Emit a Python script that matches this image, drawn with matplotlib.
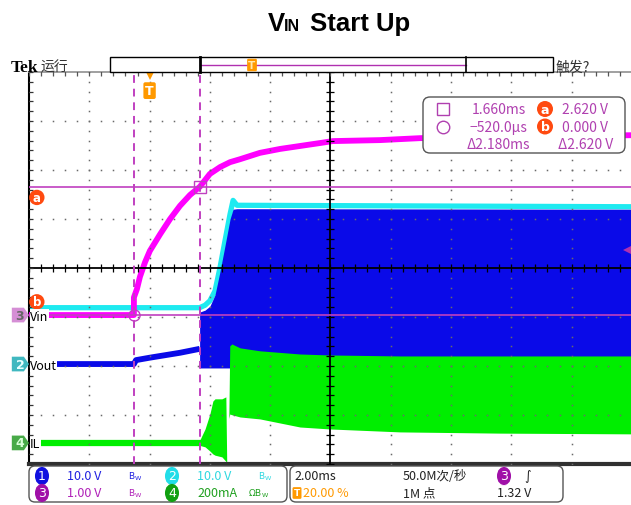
import numpy as np
import matplotlib.pyplot as plt
from matplotlib.patches import Polygon, FancyBboxPatch, Rectangle

# scope settings
t_div = 2.0            # ms/div
t_left = -4.0          # ms at left edge (trigger at 20 %)
t_right = 15.97
ch12_scale, ch12_gnd = 10.0, -1.96     # V/div, ground in div (ch1 + ch2)
ch3_scale, ch3_gnd = 1.0, -0.96        # Vin
ch4_scale, ch4_gnd = 200.0, -3.57      # IL, mA/div
trig_level = 1.32

# cursors (ch3)
cur_t = [1.660, -0.520]   # ms : square, circle
cur_v = [2.620, 0.000]    # V  : a, b

# Vin (ch3, magenta)
vin_t = [-4.0, -0.52, -0.52, -0.42, -0.32, -0.15, 0.01, 0.35, 0.68, 1.01, 1.34, 1.67,
         2.00, 2.34, 2.67, 3.00, 3.66, 4.33, 4.99, 5.65, 6.08, 7.64, 8.97, 11.62, 16.0]
vin_v = [0.0, 0.0, 0.36, 0.53, 0.78, 1.08, 1.31, 1.65, 1.96, 2.23, 2.45, 2.62,
         2.88, 3.02, 3.12, 3.18, 3.31, 3.39, 3.45, 3.51, 3.55, 3.57, 3.61, 3.64, 3.67]

# Vout (ch2, cyan)
cy_t = [-4.0, 1.66, 1.84, 2.00, 2.17, 2.34, 2.50, 2.67, 2.77, 2.90, 16.0]
cy_v = [11.5, 11.5, 12.0, 12.9, 14.9, 19.8, 25.1, 30.6, 33.4, 32.4, 32.1]

# switch node (ch1, blue)
sw_pre_t = [-4.0, -0.52, -0.45, 0.01, 0.51, 1.01, 1.66]
sw_pre_v = [0.0, 0.0, 0.8, 1.3, 1.8, 2.3, 3.1]
sw_t = [1.66, 1.84, 2.00, 2.17, 2.34, 2.50, 2.67, 2.77, 2.90, 16.0]
sw_hi = [10.6, 11.0, 11.8, 14.1, 19.0, 24.1, 29.6, 31.6, 31.7, 31.6]
sw_lo = [-0.8, -0.8, -0.8, -0.8, -0.8, -0.8, -0.8, -0.8, -0.8, -0.8]

# IL (ch4, green), mA
il_pre_t = [-4.0, 1.70]
il_pre_v = [0.0, 0.0]
il_t = [1.66, 1.84, 2.00, 2.10, 2.17, 2.40, 2.53, 2.56, 2.62, 2.63, 2.66, 2.73,
        3.00, 3.66, 4.99, 5.98, 8.31, 11.62, 16.0]
il_hi = [10, 57, 118, 171, 180, 180, 188, -85, -85, 110, 396, 404,
         388, 376, 363, 359, 355, 355, 355]
il_lo = [-10, -16, -33, -45, -50, -57, -75, -85, -85, 100, 118, 115,
         106, 98, 65, 57, 45, 40, 37]

MAG = '#ff00ff'
CUR = '#c040c0'
CYAN = '#1eeaf0'
BLUE = '#0a0ae8'
GREEN = '#00ee00'
ORANGE = '#ff4a10'
NARROW = ['Liberation Sans Narrow', 'Noto Sans CJK SC', 'DejaVu Sans']


def d12(v):
    return ch12_gnd + np.asarray(v, float) / ch12_scale


def d3(v):
    return ch3_gnd + np.asarray(v, float) / ch3_scale


def d4(v):
    return ch4_gnd + np.asarray(v, float) / ch4_scale


fig = plt.figure(figsize=(6.31, 5.06), dpi=100)
ax = fig.add_axes([29 / 631, (506 - 465) / 506, (631 - 29) / 631, (465 - 73) / 506])
ax.set_xlim(t_left, t_right)
ax.set_ylim(-4, 4)
ax.set_xticks([])
ax.set_yticks([])
ax.spines['right'].set_visible(False)
ax.spines['left'].set_linewidth(1.5)
ax.spines['top'].set_color('#909090')
ax.spines['top'].set_linewidth(1.2)
ax.spines['bottom'].set_color('#303030')
ax.spines['bottom'].set_linewidth(3)

# traces
ax.plot(cy_t, d12(cy_v), color=CYAN, lw=3.8, zorder=2, solid_capstyle='butt')
ax.plot(sw_pre_t, d12(sw_pre_v), color=BLUE, lw=4.2, zorder=2.2, solid_capstyle='butt')
ax.fill_between(sw_t, d12(sw_hi), d12(sw_lo), color=BLUE, lw=0, zorder=2.2)
ax.plot(il_pre_t, d4(il_pre_v), color=GREEN, lw=4.5, zorder=2.4, solid_capstyle='butt')
ax.fill_between(il_t, d4(il_hi), d4(il_lo), color=GREEN, lw=0, zorder=2.4)
ax.plot(vin_t, d3(vin_v), color=MAG, lw=4.2, zorder=2.6, solid_capstyle='butt')

# graticule
ys = np.arange(-4, 4.01, 0.2)
xs = np.arange(t_left, t_right, 0.4)
centre_t = t_left + 5 * t_div
for k in range(1, 10):
    if k == 5:
        continue
    xk = t_left + k * t_div
    ax.plot(np.full(len(ys), xk), ys, ls='none', marker='s', ms=1.1, mew=0,
            color='#6a6a6a', zorder=4)
for j in [-3, -2, -1, 1, 2, 3]:
    ax.plot(xs, np.full(len(xs), j), ls='none', marker='s', ms=1.1, mew=0,
            color='#6a6a6a', zorder=4)
ax.axhline(0, color='k', lw=1.3, zorder=4)
ax.axvline(centre_t, color='k', lw=1.3, zorder=4)
ax.plot(xs, np.zeros(len(xs)), ls='none', marker='|', ms=6, mew=0.9, color='k', zorder=4)
ax.plot(np.full(len(ys), centre_t), ys, ls='none', marker='_', ms=6, mew=0.9, color='k', zorder=4)
ax.plot(np.full(len(ys), t_left), ys, ls='none', marker='_', ms=6, mew=0.9, color='#333333', zorder=4)
ax.plot(xs, np.full(len(xs), 4), ls='none', marker='|', ms=6, mew=0.9, color='#555555', zorder=4)

# cursors
for tc in cur_t:
    ax.axvline(tc, color=CUR, lw=1.4, ls=(0, (4, 3)), zorder=5)
for vc in cur_v:
    ax.axhline(d3(vc), color=CUR, lw=1.2, zorder=5)
ax.plot(cur_t[0], d3(cur_v[0]), marker='s', ms=8, mfc='none', mec=CUR, mew=1, zorder=6)
ax.plot(cur_t[1], d3(cur_v[1]), marker='o', ms=8, mfc='none', mec=CUR, mew=1, zorder=6)
ax.plot(t_right - 0.06, d3(trig_level), marker='<', ms=8, color='#b030b0', mew=0,
        clip_on=False, zorder=6)

# cursor a / b tags
for lbl, vc, dy in [('a', cur_v[0], -0.22), ('b', cur_v[1], 0.27)]:
    ax.text(t_left + 0.26, d3(vc) + dy, lbl, color='white', fontsize=8.5, fontweight='bold',
            ha='center', va='center', zorder=11,
            bbox=dict(boxstyle='circle,pad=0.1', fc=ORANGE, ec='none'))

# channel markers and labels
for num, gnd, fc, nc, name in [('3', ch3_gnd, '#d58ed5', '#666666', 'Vin'),
                               ('2', ch12_gnd, '#40b8c0', '#e8ffff', 'Vout'),
                               ('4', ch4_gnd, '#48aa48', '#d8ffd8', 'IL')]:
    verts = [(t_left - 0.57, gnd - 0.15), (t_left - 0.17, gnd - 0.15), (t_left, gnd),
             (t_left - 0.17, gnd + 0.15), (t_left - 0.57, gnd + 0.15)]
    ax.add_patch(Polygon(verts, closed=True, fc=fc, ec='none', clip_on=False, zorder=11))
    ax.text(t_left - 0.3, gnd, num, color=nc, fontsize=9, fontweight='bold',
            ha='center', va='center', clip_on=False, zorder=12)
    ax.text(t_left + 0.03, gnd - 0.02, name, color='k', fontsize=9, family=NARROW,
            ha='left', va='center', zorder=11,
            bbox=dict(boxstyle='square,pad=0.02', fc='white', ec='none'))

# trigger position marker
ax.plot(0, 3.93, marker='v', ms=7, color='#ff9900', mew=0, clip_on=False, zorder=11)
ax.text(0, 3.62, 'T', color='white', fontsize=9, fontweight='bold', ha='center', va='center',
        zorder=11, bbox=dict(boxstyle='round,pad=0.15', fc='#ff9900', ec='none'))

# overlay in pixel coords for the screen furniture
ov = fig.add_axes([0, 0, 1, 1], zorder=5)
ov.set_xlim(0, 631)
ov.set_ylim(506, 0)
ov.axis('off')
ov.patch.set_alpha(0)

# title
ov.text(268, 31, 'V', fontsize=18.5, fontweight='bold', family='Liberation Sans', va='baseline')
ov.text(284, 31, 'IN', fontsize=11.5, fontweight='bold', family='Liberation Sans', va='baseline')
ov.text(310, 31, 'Start Up', fontsize=18.5, fontweight='bold', family='Liberation Sans', va='baseline')

# top bar
ov.text(11, 72, 'Tek', fontsize=12.5, fontweight='bold', family='Liberation Serif', va='baseline')
ov.text(40, 72, '运行', fontsize=10, family=NARROW, color='#333333', va='baseline')
ov.add_patch(Rectangle((110, 58), 443, 15, fc='white', ec='k', lw=1))
ov.plot([200, 466], [65.5, 65.5], color='#b030b0', lw=1)
ov.plot([200, 200], [58, 73], color='k', lw=2)
ov.plot([466, 466], [58, 73], color='k', lw=1.2)
ov.text(252, 66, 'T', color='#ffe8b0', fontsize=7.5, fontweight='bold', ha='center', va='center',
        bbox=dict(boxstyle='round,pad=0.12', fc='#ff9900', ec='none'))
ov.text(556, 72, '触发?', fontsize=10, family=NARROW, color='#333333', va='baseline')

# cursor readout box
ov.add_patch(FancyBboxPatch((425, 100), 198, 52, boxstyle='round,pad=2,rounding_size=7',
                            fc='white', ec='#555555', lw=1, zorder=3))
rc = '#b040b0'
dt = cur_t[0] - cur_t[1]
dv = cur_v[0] - cur_v[1]
ov.plot(443, 110, marker='s', ms=9, mfc='none', mec=rc, mew=1, zorder=4)
ov.plot(443, 127.5, marker='o', ms=9, mfc='none', mec=rc, mew=1, zorder=4)
ov.text(526, 110, f'{cur_t[0]:.3f}ms', color=rc, fontsize=10, family=NARROW, ha='right', va='center', zorder=4)
ov.text(527, 127.5, f'\u2212{abs(cur_t[1]) * 1000:.1f}\u00b5s', color=rc, fontsize=10, family=NARROW,
        ha='right', va='center', zorder=4)
ov.text(530, 145, f'\u0394{dt:.3f}ms', color=rc, fontsize=10, family=NARROW, ha='right', va='center', zorder=4)
for lbl, yy in [('a', 110), ('b', 127.5)]:
    ov.text(545, yy, lbl, color='white', fontsize=9, fontweight='bold', ha='center', va='center',
            zorder=4, bbox=dict(boxstyle='circle,pad=0.12', fc=ORANGE, ec='none'))
ov.text(608, 110, f'{cur_v[0]:.3f} V', color=rc, fontsize=10, family=NARROW, ha='right', va='center', zorder=4)
ov.text(608, 127.5, f'{cur_v[1]:.3f} V', color=rc, fontsize=10, family=NARROW, ha='right', va='center', zorder=4)
ov.text(613, 145, f'\u0394{dv:.3f} V', color=rc, fontsize=10, family=NARROW, ha='right', va='center', zorder=4)

# bottom info panel
ov.add_patch(FancyBboxPatch((31, 469), 254, 32, boxstyle='round,pad=2,rounding_size=6',
                            fc='white', ec='#555555', lw=1))
ov.add_patch(FancyBboxPatch((292, 469), 269, 32, boxstyle='round,pad=2,rounding_size=6',
                            fc='white', ec='#555555', lw=1))
ch_num = ['1', '2', '3', '4']
ch_scale_txt = ['10.0 V', '10.0 V', '1.00 V', '200mA']
ch_bw = ['$\\mathregular{B_W}$', '$\\mathregular{B_W}$', '$\\mathregular{B_W}$', '\u03a9$\\mathregular{B_W}$']
ch_fill = ['#1010e0', '#22dde8', '#a010a8', '#10a010']
ch_txt = ['#2020e0', '#30d8e0', '#b020b8', '#20a020']
ch_xy = [(42, 477), (172, 477), (42, 494), (172, 494)]
for n, s, b, fc, tc, (x0, y0) in zip(ch_num, ch_scale_txt, ch_bw, ch_fill, ch_txt, ch_xy):
    ov.text(x0, y0, n, color='white', fontsize=9, ha='center', va='center',
            bbox=dict(boxstyle='round,pad=0.25,rounding_size=0.8', fc=fc, ec='none'))
    ov.text(x0 + 25, y0, s, color=tc, fontsize=9, family=NARROW, ha='left', va='center')
    ov.text(x0 + 86 if n != '4' else x0 + 76, y0, b, color=tc, fontsize=6.5, ha='left', va='center')

ov.text(294, 477, '2.00ms', color='#222222', fontsize=9, family=NARROW, ha='left', va='center')
ov.text(297, 494, 'T', color='white', fontsize=6.5, fontweight='bold', ha='center', va='center',
        bbox=dict(boxstyle='round,pad=0.15', fc='#ff9900', ec='none'))
ov.text(303, 494, '20.00 %', color='#ff9900', fontsize=9, family=NARROW, ha='left', va='center')
ov.text(403, 477, '50.0M次/秒', color='#222222', fontsize=9, family=NARROW, ha='left', va='center')
ov.text(403, 494, '1M 点', color='#222222', fontsize=9, family=NARROW, ha='left', va='center')
ov.text(504, 477, '3', color='white', fontsize=9, ha='center', va='center',
        bbox=dict(boxstyle='round,pad=0.25,rounding_size=0.8', fc='#a010a8', ec='none'))
ov.text(528, 477, '\u222b', color='#222222', fontsize=9, ha='center', va='center')
ov.text(531, 494, f'{trig_level:.2f} V', color='#222222', fontsize=9, family=NARROW, ha='right', va='center')

fig.savefig('out.png', dpi=100)
